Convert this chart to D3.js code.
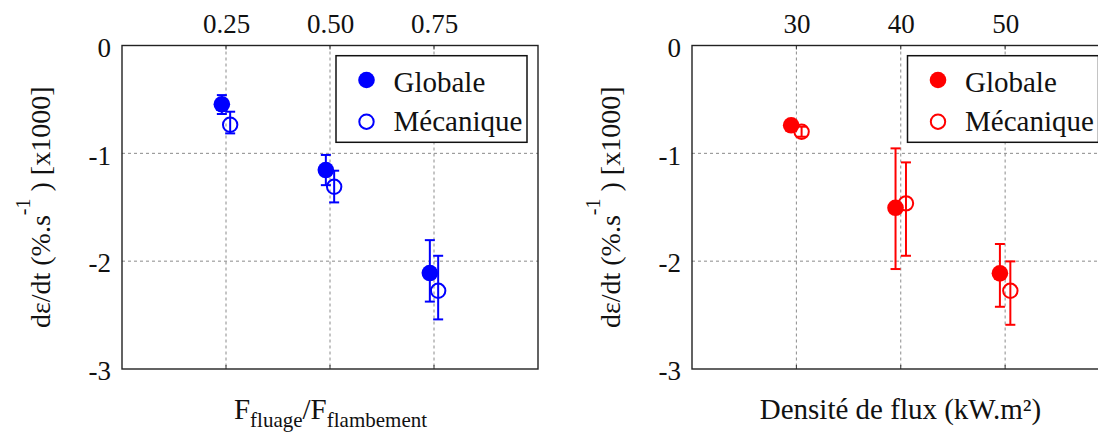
<!DOCTYPE html>
<html><head><meta charset="utf-8">
<script src="https://cdn.jsdelivr.net/npm/d3@7"></script>
<style>body{margin:0;background:#fff}svg{display:block}</style>
</head><body>
<script>
// ---- data ----
const yTicks = [0, -1, -2, -3];
const yTickLabels = ["0", "-1", "-2", "-3"];

const leftTicks = [0.25, 0.5, 0.75];
const leftTickLabels = ["0.25", "0.50", "0.75"];
const leftGlobX = [0.24, 0.49, 0.74];
const leftGlobY = [-0.545, -1.155, -2.11];
const leftGlobHi = [-0.46, -1.015, -1.805];
const leftGlobLo = [-0.635, -1.295, -2.375];
const leftMecaX = [0.26, 0.51, 0.76];
const leftMecaY = [-0.735, -1.31, -2.275];
const leftMecaHi = [-0.614, -1.161, -1.95];
const leftMecaLo = [-0.815, -1.455, -2.54];

const rightTicks = [30, 40, 50];
const rightTickLabels = ["30", "40", "50"];
const rightGlobX = [29.5, 39.5, 49.5];
const rightGlobY = [-0.74, -1.505, -2.113];
const rightGlobHi = [-0.70, -0.954, -1.841];
const rightGlobLo = [-0.78, -2.073, -2.423];
const rightMecaX = [30.5, 40.5, 50.5];
const rightMecaY = [-0.80, -1.464, -2.275];
const rightMecaHi = [-0.753, -1.084, -2.002];
const rightMecaLo = [-0.846, -1.95, -2.59];

const legendLabels = ["Globale", "Mécanique"];

// ---- drawing ----
const W = 1098, H = 432;
const FONT = "Liberation Serif";
const svg = d3.select("body").append("svg").attr("width", W).attr("height", H)
  .attr("font-family", FONT);

const y = d3.scaleLinear().domain([0, -3]).range([45.5, 369]);

function panel(cfg) {
  const x = d3.scaleLinear().domain(cfg.xDomain).range(cfg.xRange);
  const g = svg.append("g");
  const [x0, x1] = cfg.xRange;
  const [y0, y1] = y.range();

  g.append("g").selectAll("line").data(cfg.ticks).join("line")
    .attr("x1", d => x(d)).attr("x2", d => x(d)).attr("y1", y0).attr("y2", y1)
    .attr("stroke", "#8a8a8a").attr("stroke-width", 1).attr("stroke-dasharray", "3,3");
  g.append("g").selectAll("line").data(yTicks.slice(1, -1)).join("line")
    .attr("x1", x0).attr("x2", x1).attr("y1", d => y(d)).attr("y2", d => y(d))
    .attr("stroke", "#8a8a8a").attr("stroke-width", 1).attr("stroke-dasharray", "3,3");

  const ax = g.append("g").attr("transform", `translate(0,${y0})`)
    .call(d3.axisTop(x).tickValues(cfg.ticks).tickFormat((d, i) => cfg.tickLabels[i])
      .tickSize(0).tickPadding(13));
  ax.select(".domain").remove();
  ax.attr("font-family", FONT).attr("font-size", 27);
  ax.selectAll("text").attr("font-family", FONT).attr("font-size", 27).attr("fill", "#111");

  const ay = g.append("g").attr("transform", `translate(${x0},0)`)
    .call(d3.axisLeft(y).tickValues(yTicks).tickFormat((d, i) => yTickLabels[i])
      .tickSize(0).tickPadding(11));
  ay.select(".domain").remove();
  ay.attr("font-family", FONT).attr("font-size", 27);
  ay.selectAll("text").attr("font-family", FONT).attr("font-size", 27).attr("fill", "#111").attr("dy", "0.4em");

  g.append("g").selectAll("line").data(cfg.ticks).join("line")
    .attr("x1", d => x(d)).attr("x2", d => x(d)).attr("y1", y0).attr("y2", y0 + 4)
    .attr("stroke", "#333").attr("stroke-width", 1);
  g.append("g").selectAll("line").data(cfg.ticks).join("line")
    .attr("x1", d => x(d)).attr("x2", d => x(d)).attr("y1", y1).attr("y2", y1 - 4)
    .attr("stroke", "#333").attr("stroke-width", 1);

  g.append("rect").attr("x", x0).attr("y", y0).attr("width", x1 - x0).attr("height", y1 - y0)
    .attr("fill", "none").attr("stroke", "#222").attr("stroke-width", 1.4);

  const lg = g.append("g");
  const lx = x1 - 11 - 191, ly = 55.7;
  lg.append("rect").attr("x", lx).attr("y", ly).attr("width", 191).attr("height", 86.6)
    .attr("fill", "#fff").attr("stroke", "#111").attr("stroke-width", 1.5);
  lg.append("circle").attr("cx", lx + 30.5).attr("cy", ly + 24.3).attr("r", 8.3).attr("fill", cfg.color);
  lg.append("circle").attr("cx", lx + 30.5).attr("cy", ly + 66).attr("r", 7.2)
    .attr("fill", "#fff").attr("stroke", cfg.color).attr("stroke-width", 2);
  lg.selectAll("text").data(legendLabels).join("text")
    .attr("x", lx + 57.5).attr("y", (d, i) => ly + 36 + i * 39.5)
    .attr("font-family", FONT).attr("font-size", 29).attr("fill", "#111").text(d => d);

  function series(xs, ys, hi, lo, filled) {
    const s = g.append("g");
    const data = xs.map((d, i) => ({ x: d, y: ys[i], hi: hi[i], lo: lo[i] }));
    s.selectAll("line.v").data(data).join("line").attr("class", "v")
      .attr("x1", d => x(d.x)).attr("x2", d => x(d.x)).attr("y1", d => y(d.hi)).attr("y2", d => y(d.lo))
      .attr("stroke", cfg.color).attr("stroke-width", 2);
    s.selectAll("line.t").data(data).join("line").attr("class", "t")
      .attr("x1", d => x(d.x) - 5).attr("x2", d => x(d.x) + 5).attr("y1", d => y(d.hi)).attr("y2", d => y(d.hi))
      .attr("stroke", cfg.color).attr("stroke-width", 2);
    s.selectAll("line.b").data(data).join("line").attr("class", "b")
      .attr("x1", d => x(d.x) - 5).attr("x2", d => x(d.x) + 5).attr("y1", d => y(d.lo)).attr("y2", d => y(d.lo))
      .attr("stroke", cfg.color).attr("stroke-width", 2);
    s.selectAll("circle").data(data).join("circle")
      .attr("cx", d => x(d.x)).attr("cy", d => y(d.y))
      .attr("r", filled ? 8.3 : 7.2)
      .attr("fill", filled ? cfg.color : "none")
      .attr("stroke", filled ? "none" : cfg.color).attr("stroke-width", 2);
  }
  series(cfg.globX, cfg.globY, cfg.globHi, cfg.globLo, true);
  series(cfg.mecaX, cfg.mecaY, cfg.mecaHi, cfg.mecaLo, false);

  const yl = g.append("text")
    .attr("transform", `translate(${x0 - 72},${(y0 + y1) / 2}) rotate(-90)`)
    .attr("text-anchor", "middle").attr("font-family", FONT).attr("font-size", 28).attr("fill", "#111");
  yl.append("tspan").text("dε/dt (%.s");
  yl.append("tspan").attr("dy", -20).attr("font-size", 20).text("-1");
  yl.append("tspan").attr("dy", 20).text(" ) [x1000]");

  const xl = g.append("text").attr("x", (x0 + x0 + 417) / 2).attr("y", 419)
    .attr("text-anchor", "middle").attr("font-family", FONT).attr("font-size", 29).attr("fill", "#111");
  cfg.xLabel(xl);
}

panel({
  xDomain: [0, 1], xRange: [122, 538], ticks: leftTicks, tickLabels: leftTickLabels, color: "#0000ff",
  globX: leftGlobX, globY: leftGlobY, globHi: leftGlobHi, globLo: leftGlobLo,
  mecaX: leftMecaX, mecaY: leftMecaY, mecaHi: leftMecaHi, mecaLo: leftMecaLo,
  xLabel: t => {
    t.append("tspan").text("F");
    t.append("tspan").attr("dy", 8).attr("font-size", 21).text("fluage");
    t.append("tspan").attr("dy", -8).text("/F");
    t.append("tspan").attr("dy", 8).attr("font-size", 21).text("flambement");
  }
});

panel({
  xDomain: [20, 60], xRange: [692, 1109.5], ticks: rightTicks, tickLabels: rightTickLabels, color: "#ff0000",
  globX: rightGlobX, globY: rightGlobY, globHi: rightGlobHi, globLo: rightGlobLo,
  mecaX: rightMecaX, mecaY: rightMecaY, mecaHi: rightMecaHi, mecaLo: rightMecaLo,
  xLabel: t => { t.text("Densité de flux (kW.m²)"); }
});
</script>
</body></html>
